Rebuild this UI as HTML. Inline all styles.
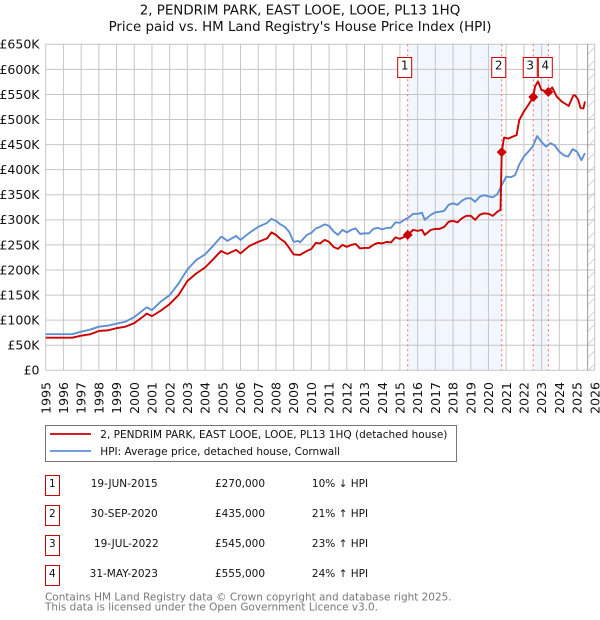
<!DOCTYPE html>
<html lang="en">
<head>
<meta charset="utf-8">
<title>2, PENDRIM PARK, EAST LOOE, LOOE, PL13 1HQ - Price paid vs. HPI</title>
<style>
html,body{margin:0;padding:0;background:#fff;width:600px;height:620px;overflow:hidden}
svg{display:block}
text{font-family:"DejaVu Sans","Liberation Sans",sans-serif;fill:#111}
</style>
</head>
<body>
<svg id="chart" xmlns="http://www.w3.org/2000/svg" width="600" height="620" viewBox="0 0 600 620">
  <g id="title">
    <text x="300" y="14.5" text-anchor="middle" font-size="13.4">2, PENDRIM PARK, EAST LOOE, LOOE, PL13 1HQ</text>
    <text x="300" y="31" text-anchor="middle" font-size="13.4">Price paid vs. HM Land Registry's House Price Index (HPI)</text>
  </g>
  <g id="shades"></g>
  <g id="hatch"></g>
  <g id="grid"></g>
  <g id="ylabels"></g>
  <g id="xlabels"></g>
  <g id="vlines"></g>
  <g id="series"></g>
  <g id="markers"></g>
  <g id="flags"></g>

  <g id="legend">
    <rect x="45.5" y="425.5" width="411" height="36" fill="#fff" stroke="#777" stroke-width="1"/>
    <line x1="50" y1="434" x2="91" y2="434" stroke="#cc0000" stroke-width="1.8"/>
    <text x="100.3" y="437.8" font-size="10.5">2, PENDRIM PARK, EAST LOOE, LOOE, PL13 1HQ (detached house)</text>
    <line x1="50" y1="451" x2="91" y2="451" stroke="#5f8fd3" stroke-width="1.8"/>
    <text x="100.3" y="454.8" font-size="10.5">HPI: Average price, detached house, Cornwall</text>
  </g>

  <g id="sales-table">
    <g>
      <rect x="45.5" y="475.5" width="14" height="20" fill="#fff" stroke="#cc0000" stroke-width="1"/>
      <text x="52.3" y="487" text-anchor="middle" font-size="10.5">1</text>
      <text x="124.2" y="487" text-anchor="middle" font-size="10.5">19-JUN-2015</text>
      <text x="240" y="487" text-anchor="middle" font-size="10.5">£270,000</text>
      <text x="340" y="487" text-anchor="middle" font-size="10.5">10% ↓ HPI</text>
    </g>
    <g>
      <rect x="45.5" y="505.5" width="14" height="20" fill="#fff" stroke="#cc0000" stroke-width="1"/>
      <text x="52.3" y="517" text-anchor="middle" font-size="10.5">2</text>
      <text x="124.2" y="517" text-anchor="middle" font-size="10.5">30-SEP-2020</text>
      <text x="240" y="517" text-anchor="middle" font-size="10.5">£435,000</text>
      <text x="340" y="517" text-anchor="middle" font-size="10.5">21% ↑ HPI</text>
    </g>
    <g>
      <rect x="45.5" y="535.5" width="14" height="20" fill="#fff" stroke="#cc0000" stroke-width="1"/>
      <text x="52.3" y="547" text-anchor="middle" font-size="10.5">3</text>
      <text x="126.3" y="547" text-anchor="middle" font-size="10.5">19-JUL-2022</text>
      <text x="240" y="547" text-anchor="middle" font-size="10.5">£545,000</text>
      <text x="340" y="547" text-anchor="middle" font-size="10.5">23% ↑ HPI</text>
    </g>
    <g>
      <rect x="45.5" y="565.5" width="14" height="20" fill="#fff" stroke="#cc0000" stroke-width="1"/>
      <text x="52.3" y="577" text-anchor="middle" font-size="10.5">4</text>
      <text x="123.8" y="577" text-anchor="middle" font-size="10.5">31-MAY-2023</text>
      <text x="240" y="577" text-anchor="middle" font-size="10.5">£555,000</text>
      <text x="340" y="577" text-anchor="middle" font-size="10.5">24% ↑ HPI</text>
    </g>
  </g>

  <g id="footer">
    <text x="45" y="600.3" font-size="10.46" style="fill:#777">Contains HM Land Registry data © Crown copyright and database right 2025.</text>
    <text x="45" y="610.3" font-size="10.46" style="fill:#777">This data is licensed under the Open Government Licence v3.0.</text>
  </g>
</svg>
<script>
const yTickValues = [0,50,100,150,200,250,300,350,400,450,500,550,600,650];
const yTickLabels = ["£0","£50K","£100K","£150K","£200K","£250K","£300K","£350K","£400K","£450K","£500K","£550K","£600K","£650K"];
const xTickYears = [1995,1996,1997,1998,1999,2000,2001,2002,2003,2004,2005,2006,2007,2008,2009,2010,2011,2012,2013,2014,2015,2016,2017,2018,2019,2020,2021,2022,2023,2024,2025,2026];

const hpiDates = [1995,1996,1996.5,1997,1997.5,1998,1998.5,1999,1999.5,2000,2000.5,2000.7,2001,2001.5,2002,2002.5,2003,2003.5,2004,2004.5,2004.9,2005,2005.25,2005.5,2005.75,2006,2006.5,2007,2007.5,2007.75,2008,2008.25,2008.5,2008.75,2009,2009.25,2009.36,2009.75,2010,2010.25,2010.5,2010.75,2011,2011.25,2011.5,2011.75,2012,2012.25,2012.5,2012.75,2013,2013.25,2013.5,2013.75,2014,2014.25,2014.5,2014.75,2015,2015.25,2015.46,2015.75,2016,2016.25,2016.4,2016.75,2017,2017.25,2017.5,2017.75,2018,2018.25,2018.5,2018.75,2019,2019.25,2019.5,2019.75,2020,2020.25,2020.5,2020.75,2021,2021.25,2021.5,2021.75,2022,2022.25,2022.5,2022.75,2023,2023.25,2023.5,2023.75,2024,2024.25,2024.5,2024.75,2025,2025.25,2025.45];
const hpiValues = [72,72,72,77,81,87,89,93,97,106,120,125.6,120,137,150,173,201,220,231,250,266,265,258,263,268,260,274,286,294,302,298,291,286,276,256,258,255,270,274,283,286,291,288,277,270,280,275,280,283,272,273,273,282,284,281,284,284,295,294,300,304,312,312,314,300,310,315,316,318,330,333,330,338,343,343,336,346,349,347,345,351,369,386,385,389,411,426,436,446,467,455,446,453,448,436,429,426,441,436,419,433];

const paidDates = [1995,1996,1996.5,1997,1997.5,1998,1998.5,1999,1999.5,2000,2000.5,2000.7,2001,2001.5,2002,2002.5,2003,2003.5,2004,2004.5,2004.9,2005.25,2005.5,2005.75,2006,2006.5,2007,2007.5,2007.75,2008,2008.25,2008.5,2008.75,2009,2009.36,2009.75,2010,2010.25,2010.5,2010.75,2011,2011.25,2011.5,2011.75,2012,2012.25,2012.5,2012.75,2013,2013.25,2013.5,2013.75,2014,2014.25,2014.5,2014.75,2015,2015.25,2015.44,2015.75,2016,2016.25,2016.4,2016.75,2017,2017.25,2017.5,2017.75,2018,2018.25,2018.5,2018.75,2019,2019.25,2019.5,2019.75,2020,2020.25,2020.5,2020.68,2020.75,2020.88,2021.12,2021.37,2021.59,2021.74,2022,2022.25,2022.53,2022.63,2022.8,2022.99,2023.38,2023.6,2023.85,2024.13,2024.53,2024.79,2024.9,2025.07,2025.2,2025.36,2025.45];
const paidValues = [65,65,65,69,71.7,78.4,79.6,84,87,94,107,113,108,119,132,150,178,193,205,223,238,232,236,240,233,248,256,263,275,270,262,256,244,231,230,238,242,254,253,260,256,246,242,250,246,250,252,243,244,244,250,254,253,256,255,265,262,266,270,280,278,280,270,280,282,282,286,296,298,295,303,308,308,300,310,313,312,308,316,320,435,464,462,466,469,499,516,529,545,566,576,559,555,564,546,536,527,548,548,539,523,522,536];

const saleDates = [2015.44,2020.75,2022.53,2023.38];
const salePrices = [270,435,545,555];
const saleLabels = ["1","2","3","4"];
const dataEndDate = 2025.6;

const NS = "http://www.w3.org/2000/svg";
const X0 = 45.7, X_PER_YEAR = 17.71, Y0 = 370.3, Y_PER_K = 326 / 650;
function xScale(t){ return X0 + (t - 1995) * X_PER_YEAR; }
function yScale(v){ return Y0 - v * Y_PER_K; }
function add(parentId, tag, attrs, txt){
  const el = document.createElementNS(NS, tag);
  for (const k in attrs) el.setAttribute(k, attrs[k]);
  if (txt !== undefined) el.textContent = txt;
  document.getElementById(parentId).appendChild(el);
  return el;
}
const plotTop = yScale(650), plotBottom = yScale(0), plotLeft = xScale(1995), plotRight = xScale(2026);

// shaded spans between sales
for (let i = 0; i + 1 < saleDates.length; i += 2) {
  const el = add("shades", "rect", {x: xScale(saleDates[i]), y: plotTop, width: xScale(saleDates[i+1]) - xScale(saleDates[i]), height: plotBottom - plotTop, fill: "#f2f6fe"});
  
  
}

// hatching after the last data date
const endX = xScale(dataEndDate);
for (let y = plotTop + 10; y <= plotBottom + 1; y += 13.2) {
  const el = add("hatch", "line", {x1: endX, y1: y, x2: plotRight, y2: y - (plotRight - endX), stroke: "#cfcfcf", "stroke-width": 0.9});
  
  
}

// grid and tick labels
yTickValues.forEach((v, i) => {
  const g = add("grid", "line", {x1: plotLeft, x2: plotRight, y1: yScale(v), y2: yScale(v), stroke: "#c6c6c6", "stroke-width": 1});
  
  
  const t = add("ylabels", "text", {x: 39.5, y: yScale(v) + 4.4, "text-anchor": "end", "font-size": 12.5}, yTickLabels[i]);
  
  
});
xTickYears.forEach((yr) => {
  const g = add("grid", "line", {x1: xScale(yr), x2: xScale(yr), y1: plotTop, y2: plotBottom, stroke: "#c6c6c6", "stroke-width": 1});
  
  
  const px = xScale(yr) + 4.6;
  const t = add("xlabels", "text", {x: px, y: 382, "text-anchor": "end", "font-size": 12.5, transform: "rotate(-90 " + px + " 382)"}, String(yr));
  
  
});

// end-of-data line
const endLine = add("grid", "line", {x1: endX, x2: endX, y1: plotTop, y2: plotBottom, stroke: "#999", "stroke-width": 1});



// sale date lines
saleDates.forEach((d) => {
  const el = add("vlines", "line", {x1: xScale(d), x2: xScale(d), y1: plotTop, y2: plotBottom, stroke: "#f46a6a", "stroke-width": 1, "stroke-dasharray": "2 3"});
  
  
});

// series
function pathFrom(dates, values){
  return dates.map((d, i) => (i ? "L" : "M") + xScale(d).toFixed(2) + " " + yScale(values[i]).toFixed(2)).join(" ");
}
const hpiLine = add("series", "path", {d: pathFrom(hpiDates, hpiValues), fill: "none", stroke: "#5f8fd3", "stroke-width": 1.9, "stroke-linejoin": "round"});


const paidLine = add("series", "path", {d: pathFrom(paidDates, paidValues), fill: "none", stroke: "#cc0000", "stroke-width": 1.9, "stroke-linejoin": "round"});



// markers and flags
saleDates.forEach((d, i) => {
  const cx = xScale(d), cy = yScale(salePrices[i]), r = 5;
  const m = add("markers", "path", {d: "M" + (cx - r) + " " + cy + "L" + cx + " " + (cy - r) + "L" + (cx + r) + " " + cy + "L" + cx + " " + (cy + r) + "Z", fill: "#cc0000"});
  
  
  const b = add("flags", "rect", {x: cx - 10, y: 57.5, width: 14, height: 20, fill: "#fff", stroke: "#cc0000", "stroke-width": 1});
  
  
  const t = add("flags", "text", {x: cx - 3, y: 69.5, "text-anchor": "middle", "font-size": 12}, saleLabels[i]);
  
  
});
</script>
</body>
</html>
